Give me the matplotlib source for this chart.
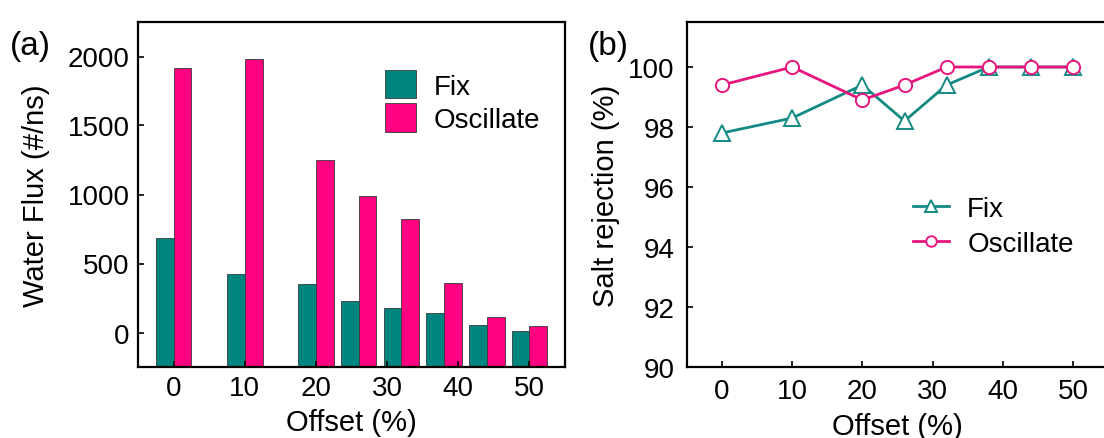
import matplotlib
matplotlib.use("Agg")
import matplotlib.pyplot as plt
import numpy as np

plt.rcParams['font.family'] = ['Liberation Sans', 'DejaVu Sans']

offset = [0, 10, 20, 26, 32, 38, 44, 50]
tick_vals = [0, 10, 20, 30, 40, 50]

flux_fix = [685, 422, 350, 227, 174, 140, 53, 12]
flux_osc = [1920, 1985, 1248, 990, 821, 357, 113, 48]

rej_fix = [97.8, 98.3, 99.4, 98.2, 99.4, 100, 100, 100]
rej_osc = [99.4, 100, 98.9, 99.4, 100, 100, 100, 100]

teal = '#00847F'
pink = '#FF0080'
teal_line = '#138A84'
pink_line = '#E8157F'

W, H = 1104, 439
fig = plt.figure(figsize=(W / 100, H / 100), dpi=100)


def box(l, t, r, b):
    return [l / W, 1 - b / H, (r - l) / W, (b - t) / H]


tick_fs = 20
lab_fs = 21
leg_fs = 20

# ---- (a) water flux bars
ax1 = fig.add_axes(box(138, 23, 565, 368))
ybot = -250
x = np.array(offset, dtype=float)
bw = 2.5
ax1.bar(x - bw / 2, np.array(flux_fix) - ybot, bottom=ybot, width=bw,
        color=teal, edgecolor='#3a3a3a', linewidth=0.6, label='Fix')
ax1.bar(x + bw / 2, np.array(flux_osc) - ybot, bottom=ybot, width=bw,
        color=pink, edgecolor='#3a3a3a', linewidth=0.6, label='Oscillate')
ax1.set_xlim(-5, 55)
ax1.set_ylim(ybot, 2250)
ax1.set_xticks(tick_vals)
ax1.set_yticks([0, 500, 1000, 1500, 2000])
ax1.tick_params(direction='in', length=4, width=1.2, labelsize=tick_fs)
ax1.tick_params(axis='y', pad=6)
ax1.tick_params(axis='x', pad=6)
ax1.set_xlabel('Offset (%)', fontsize=lab_fs)
ax1.set_ylabel('Water Flux (#/ns)', fontsize=lab_fs)
ax1.xaxis.set_label_coords(0.5, -0.12)
ax1.yaxis.set_label_coords(-0.205, 0.5)
for s in ax1.spines.values():
    s.set_linewidth(1.6)
ax1.legend(loc='upper left', bbox_to_anchor=(385 / W, 1 - 71 / H),
           bbox_transform=fig.transFigure, frameon=False,
           fontsize=leg_fs, handlelength=1.1, handleheight=1.2,
           handletextpad=0.65, labelspacing=0.14, borderpad=0,
           borderaxespad=0)
fig.text(10 / W, 1 - 55 / H, '(a)', fontsize=24)

# ---- (b) salt rejection lines
ax2 = fig.add_axes(box(687, 23, 1108, 368))
ax2.plot(offset, rej_fix, '-^', color=teal_line, mfc='white', mec=teal_line,
         ms=11, mew=1.4, lw=2, label='Fix')
ax2.plot(offset, rej_osc, '-o', color=pink_line, mfc='white', mec=pink_line,
         ms=9.5, mew=1.4, lw=2, label='Oscillate')
ax2.set_xlim(-5, 55)
ax2.set_ylim(90, 101.5)
ax2.set_xticks(tick_vals)
ax2.set_yticks([90, 92, 94, 96, 98, 100])
ax2.tick_params(direction='in', length=4, width=1.2, labelsize=tick_fs)
ax2.tick_params(axis='y', pad=9)
ax2.tick_params(axis='x', pad=8)
ax2.set_xlabel('Offset (%)', fontsize=lab_fs)
ax2.set_ylabel('Salt rejection (%)', fontsize=lab_fs)
ax2.xaxis.set_label_coords(0.5, -0.13)
ax2.yaxis.set_label_coords(-0.16, 0.5)
for s in ax2.spines.values():
    s.set_linewidth(1.6)
ax2.legend(loc='upper left', bbox_to_anchor=(913 / W, 1 - 197 / H),
           bbox_transform=fig.transFigure, frameon=False,
           fontsize=leg_fs, handlelength=1.3, handletextpad=0.65,
           labelspacing=0.32, borderpad=0, borderaxespad=0, markerscale=0.8)
fig.text(588 / W, 1 - 55 / H, '(b)', fontsize=24)

fig.savefig('out.png', dpi=100)
